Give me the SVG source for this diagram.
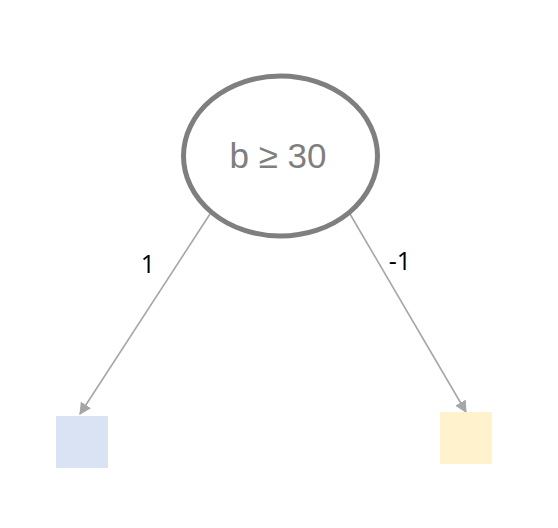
<svg xmlns="http://www.w3.org/2000/svg" width="558" height="528" viewBox="0 0 558 528">
<style>
.edge{stroke:#a6a6a6;stroke-width:1.6;fill:none}
.elab{font-family:"Open Sans","Liberation Sans",sans-serif;font-size:25px;fill:#000}
</style>
<defs>
<marker id="arr" viewBox="0 0 10 10" refX="9" refY="5" markerWidth="12" markerHeight="12" markerUnits="userSpaceOnUse" orient="auto"><path d="M0,0 L10,5 L0,10 z" fill="#a6a6a6"/></marker>
</defs>
<rect width="558" height="528" fill="#fff"/>
<g id="connectors">
<line class="edge" x1="210" y1="214" x2="80" y2="414" marker-end="url(#arr)"/>
<line class="edge" x1="350" y1="214" x2="466" y2="412" marker-end="url(#arr)"/>
<text class="elab" x="148" y="273" text-anchor="middle">1</text>
<text class="elab" x="400" y="270" text-anchor="middle">-1</text>
</g>
<g id="root">
<ellipse cx="280.5" cy="156" rx="97" ry="80" fill="#fff" stroke="#7f7f7f" stroke-width="5"/>
<text x="278" y="168" text-anchor="middle" font-family="'Liberation Sans',sans-serif" font-size="35" fill="#7f7f7f">b ≥ 30</text>
</g>
<g id="leaf-left"><rect x="56" y="416" width="52" height="52" fill="#dae3f3"/></g>
<g id="leaf-right"><rect x="440" y="412" width="52" height="52" fill="#fff2cc"/></g>
</svg>
